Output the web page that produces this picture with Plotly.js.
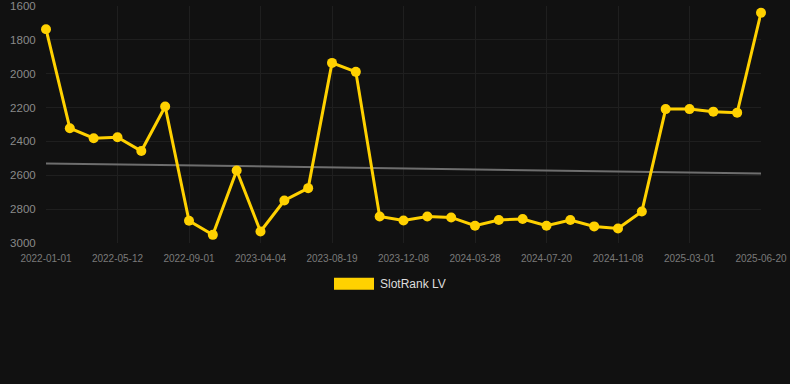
<!DOCTYPE html>
<html>
<head>
<meta charset="utf-8">
<script src="https://cdn.plot.ly/plotly-3.0.1.min.js"></script>
<style>
html,body{margin:0;padding:0;background:#111111;}
#chart{width:790px;height:384px;}
</style>
</head>
<body>
<div id="chart"></div>
<script>
// Categories (dates); only every third one is labelled in the reference
const dates = [
  "2022-01-01","2022-02-14","2022-03-29",
  "2022-05-12","2022-06-18","2022-07-25",
  "2022-09-01","2022-12-10","2023-02-21",
  "2023-04-04","2023-05-20","2023-07-05",
  "2023-08-19","2023-09-24","2023-10-31",
  "2023-12-08","2024-01-13","2024-02-20",
  "2024-03-28","2024-05-05","2024-06-12",
  "2024-07-20","2024-08-26","2024-10-02",
  "2024-11-08","2024-12-20","2025-01-20",
  "2025-03-01","2025-04-06","2025-05-14",
  "2025-06-20"
];
const rankValues = [
  1737, 2322, 2381,
  2375, 2457, 2194,
  2869, 2952, 2572,
  2932, 2749, 2676,
  1936, 1989, 2843,
  2867, 2843, 2849,
  2898, 2864, 2858,
  2898, 2864, 2902,
  2914, 2814, 2209,
  2209, 2224, 2230,
  1640
];
const trendX = ["2022-01-01", "2025-06-20"];
const trendY = [2530, 2589];
const tickDates = ["2022-01-01","2022-05-12","2022-09-01","2023-04-04","2023-08-19","2023-12-08","2024-03-28","2024-07-20","2024-11-08","2025-03-01","2025-06-20"];
const yTicks = [1600, 1800, 2000, 2200, 2400, 2600, 2800, 3000];
const seriesName = "SlotRank LV";

const yellow = "rgb(255,209,0)";

const traces = [
  {
    x: trendX, y: trendY, type: "scatter", mode: "lines",
    line: {color: "#6e6e6e", width: 2}, showlegend: false, hoverinfo: "skip",
    cliponaxis: false
  },
  {
    x: dates, y: rankValues, type: "scatter", mode: "lines+markers",
    name: seriesName,
    line: {color: yellow, width: 3},
    marker: {color: yellow, size: 10},
    showlegend: false,
    cliponaxis: false
  }
];

const layout = {
  width: 790, height: 384,
  paper_bgcolor: "#111111", plot_bgcolor: "#111111",
  margin: {l: 46, r: 29, t: 6, b: 140.7},
  font: {family: "Liberation Sans, Arial, sans-serif"},
  xaxis: {
    type: "category",
    categoryorder: "array", categoryarray: dates,
    range: [0, 30],
    tickvals: tickDates, ticktext: tickDates,
    tickfont: {size: 10, color: "#7a7a7a"},
    showgrid: true, gridcolor: "#1f1f1f", gridwidth: 1,
    zeroline: false, showline: false,
    ticks: "outside", ticklen: 6, tickcolor: "rgba(0,0,0,0)"
  },
  yaxis: {
    range: [3000, 1600],
    tickvals: yTicks,
    tickfont: {size: 11.5, color: "#8a8a8a"},
    showgrid: true, gridcolor: "#1f1f1f", gridwidth: 1,
    zeroline: false, showline: false,
    ticks: "outside", ticklen: 7, tickcolor: "rgba(0,0,0,0)"
  },
  showlegend: false,
  shapes: [
    {type: "rect", xref: "paper", yref: "paper",
     x0: (334 - 46) / 715, x1: (374 - 46) / 715,
     y0: (384 - 140.7 - 290) / 237.3, y1: (384 - 140.7 - 278) / 237.3,
     fillcolor: yellow, line: {width: 0}}
  ],
  annotations: [
    {xref: "paper", yref: "paper",
     x: (378 - 46) / 715, y: (384 - 140.7 - 284.5) / 237.3,
     xanchor: "left", yanchor: "middle", showarrow: false,
     text: seriesName, font: {size: 12, color: "#dddddd"}}
  ]
};

Plotly.newPlot("chart", traces, layout, {displayModeBar: false, staticPlot: true});
</script>
</body>
</html>
